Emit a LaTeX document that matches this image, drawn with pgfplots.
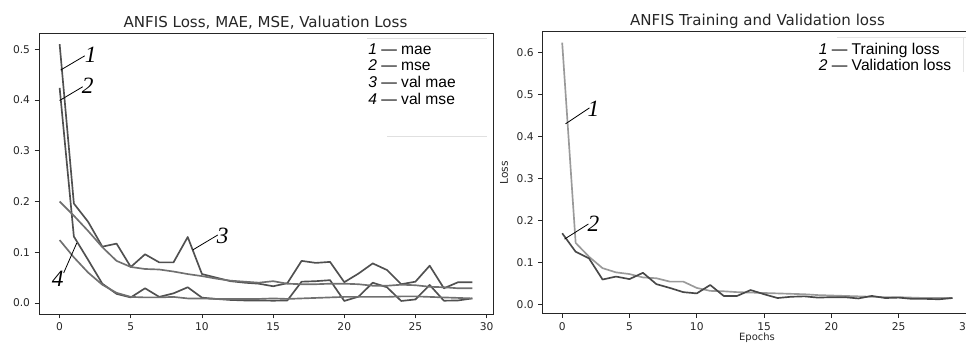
\documentclass[border=0pt]{standalone}
\usepackage{pgfplots}
\pgfplotsset{compat=1.18}
\usepackage{fontspec}
\setmainfont{DejaVu Sans}
\newfontfamily\legfont{Liberation Sans}
\newfontfamily\calfont{Liberation Serif}
\definecolor{cA}{HTML}{505050}
\definecolor{cC}{HTML}{707070}
\definecolor{cT}{HTML}{9A9A9A}
\definecolor{cV}{HTML}{484848}
\definecolor{frame}{HTML}{262626}

\pgfplotstableread{
x A B C D
0 0.510 0.424 0.200 0.124
1 0.196 0.131 0.172 0.090
2 0.160 0.085 0.142 0.060
3 0.111 0.038 0.110 0.036
4 0.117 0.018 0.083 0.020
5 0.071 0.011 0.071 0.012
6 0.096 0.029 0.067 0.011
7 0.080 0.012 0.066 0.011
8 0.080 0.019 0.062 0.012
9 0.130 0.031 0.057 0.009
10 0.057 0.0105 0.053 0.009
11 0.050 0.008 0.048 0.008
12 0.043 0.006 0.044 0.008
13 0.040 0.005 0.042 0.008
14 0.038 0.005 0.040 0.008
15 0.033 0.0045 0.043 0.009
16 0.039 0.005 0.038 0.008
17 0.083 0.042 0.037 0.009
18 0.079 0.043 0.037 0.010
19 0.081 0.045 0.038 0.011
20 0.041 0.004 0.038 0.012
21 0.058 0.0125 0.037 0.012
22 0.078 0.040 0.034 0.012
23 0.065 0.031 0.034 0.012
24 0.037 0.004 0.036 0.013
25 0.042 0.007 0.035 0.013
26 0.0735 0.0355 0.032 0.012
27 0.029 0.0045 0.031 0.011
28 0.041 0.005 0.029 0.010
29 0.041 0.009 0.029 0.009
}\lefttable

\pgfplotstableread{
x T V
0 0.623 0.170
1 0.147 0.126
2 0.114 0.110
3 0.087 0.060
4 0.077 0.067
5 0.073 0.061
6 0.065 0.076
7 0.063 0.049
8 0.055 0.040
9 0.055 0.030
10 0.040 0.027
11 0.033 0.047
12 0.032 0.021
13 0.030 0.021
14 0.029 0.035
15 0.028 0.025
16 0.027 0.016
17 0.026 0.019
18 0.025 0.020
19 0.023 0.017
20 0.022 0.018
21 0.021 0.018
22 0.020 0.015
23 0.019 0.021
24 0.018 0.016
25 0.018 0.017
26 0.017 0.014
27 0.016 0.014
28 0.016 0.013
29 0.016 0.016
}\righttable

\pgfplotsset{
  mystyle/.style={
    scale only axis, anchor=south west,
    xmin=-1.45, xmax=30.45,
    xtick={0,5,...,30},
    tick align=outside, xtick pos=bottom, ytick pos=left,
    major tick length=3.2pt,
    axis line style={frame, line width=0.75pt},
    tick style={frame, line width=0.6pt},
    ticklabel style={font=\fontsize{8}{9}\selectfont, text=frame},
    /pgf/number format/assume math mode=true,
    yticklabel style={/pgf/number format/.cd, fixed, fixed zerofill, precision=1},
    every axis plot/.append style={line width=1.25pt, mark=none, line join=round},
  }
}

\begin{document}
\begin{tikzpicture}
% left panel
\begin{axis}[mystyle,
  at={(29.25pt,-235.5pt)},
  width=340.5pt, height=210.75pt,
  ymin=-0.0217, ymax=0.532,
  ytick={0,0.1,...,0.5},
]
\addplot[cA] table[x=x,y=A] {\lefttable};
\addplot[cA] table[x=x,y=B] {\lefttable};
\addplot[cC] table[x=x,y=C] {\lefttable};
\addplot[cC] table[x=x,y=D] {\lefttable};
\draw[black, line width=0.6pt] (axis cs:0.07,0.459) -- (axis cs:1.76,0.487);
\draw[black, line width=0.6pt] (axis cs:0,0.399) -- (axis cs:1.62,0.426);
\draw[black, line width=0.6pt] (axis cs:9.35,0.1045) -- (axis cs:11.11,0.134);
\draw[black, line width=0.6pt] (axis cs:0.28,0.059) -- (axis cs:1.2,0.118);
\node[font=\calfont\itshape\fontsize{17.5}{18}\selectfont, inner sep=0] at (axis cs:2.18,0.489) {1};
\node[font=\calfont\itshape\fontsize{17.5}{18}\selectfont, inner sep=0] at (axis cs:1.97,0.428) {2};
\node[font=\calfont\itshape\fontsize{17.5}{18}\selectfont, inner sep=0] at (axis cs:11.46,0.132) {3};
\node[font=\calfont\itshape\fontsize{17.5}{18}\selectfont, inner sep=0] at (axis cs:-0.14,0.047) {4};
\end{axis}
% right panel
\begin{axis}[mystyle,
  at={(407.0pt,-235.0pt)},
  width=322.0pt, height=211.2pt,
  ymin=-0.0204, ymax=0.649,
  ytick={0,0.1,...,0.6},
]
\addplot[cT] table[x=x,y=T] {\righttable};
\addplot[cV] table[x=x,y=V] {\righttable};
\draw[black, line width=0.6pt] (axis cs:0.245,0.43) -- (axis cs:2.03,0.468);
\draw[black, line width=0.6pt] (axis cs:0.17,0.156) -- (axis cs:1.95,0.192);
\node[font=\calfont\itshape\fontsize{17.5}{18}\selectfont, inner sep=0] at (axis cs:2.33,0.465) {1};
\node[font=\calfont\itshape\fontsize{17.5}{18}\selectfont, inner sep=0] at (axis cs:2.33,0.192) {2};
\end{axis}
% titles and labels
\node[anchor=base, inner sep=0, font=\fontsize{11.3}{12}\selectfont, text=frame] at (199.1pt,-20.5pt) {ANFIS Loss, MAE, MSE, Valuation Loss};
\node[anchor=base, inner sep=0, font=\fontsize{11.3}{12}\selectfont, text=frame] at (568.1pt,-19.3pt) {ANFIS Training and Validation loss};
\node[rotate=90, inner sep=0, font=\fontsize{8}{9}\selectfont, text=frame] at (378pt,-129.75pt) {Loss};
\node[anchor=base, inner sep=0, font=\fontsize{7.5}{8}\selectfont, text=frame] at (567.75pt,-255.0pt) {Epochs};
% legend remnants
\draw[black!12, line width=0.6pt] (275.3pt,-28.7pt) -- (365.3pt,-28.7pt);
\draw[black!12, line width=0.6pt] (290.3pt,-102.5pt) -- (365.3pt,-102.5pt);
\draw[black!10, line width=0.6pt] (627.8pt,-27.8pt) -- (724.5pt,-27.8pt);
\draw[black!10, line width=0.6pt] (722.3pt,-27.8pt) -- (722.3pt,-54pt);
% legends
\begin{scope}[every node/.style={anchor=base west, inner sep=0, font=\legfont\fontsize{11.7}{12}\selectfont}]
\node at (276pt,-40.5pt) {\textit{1} — mae};
\node at (276pt,-53.0pt) {\textit{2} — mse};
\node at (276pt,-65.5pt) {\textit{3} — val mae};
\node at (276pt,-78.0pt) {\textit{4} — val mse};
\node at (613.9pt,-40.5pt) {\textit{1} — Training loss};
\node at (613.9pt,-53.0pt) {\textit{2} — Validation loss};
\end{scope}
\pgfresetboundingbox
\path (0pt,0pt) rectangle (724.5pt,-257.25pt);
\end{tikzpicture}
\end{document}
